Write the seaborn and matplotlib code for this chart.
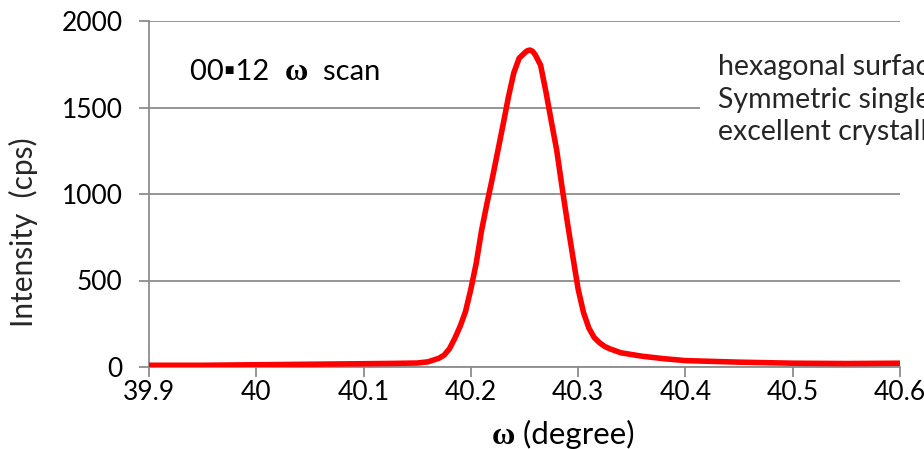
import numpy as np
import pandas as pd
import matplotlib
matplotlib.use('Agg')
import matplotlib.pyplot as plt
import seaborn as sns
from matplotlib.offsetbox import TextArea, HPacker, AnnotationBbox
from matplotlib.patches import Rectangle

# omega scan of the 00.12 reflection
omega = [39.90, 39.95, 40.00, 40.05, 40.10, 40.13, 40.15, 40.16, 40.17, 40.175,
         40.18, 40.185, 40.19, 40.195, 40.20, 40.205, 40.21, 40.215, 40.22, 40.225,
         40.23, 40.235, 40.24, 40.245, 40.25, 40.2525, 40.255, 40.2575, 40.26, 40.265,
         40.27, 40.275, 40.28, 40.285, 40.29, 40.295, 40.30, 40.305, 40.31, 40.315,
         40.32, 40.325, 40.33, 40.34, 40.36, 40.38, 40.40, 40.45, 40.50, 40.55,
         40.60]
intensity = [10, 10, 13, 16, 19, 21, 23, 30, 50, 68,
             105, 165, 235, 320, 450, 600, 790, 945, 1090, 1245,
             1400, 1560, 1700, 1785, 1815, 1828, 1832, 1825, 1805, 1745,
             1590, 1420, 1254, 1040, 835, 640, 450, 315, 225, 170,
             140, 118, 104, 82, 62, 48, 37, 28, 22, 20,
             22]

x_ticks = [39.9, 40.0, 40.1, 40.2, 40.3, 40.4, 40.5, 40.6]
x_ticklabels = ['39.9', '40', '40.1', '40.2', '40.3', '40.4', '40.5', '40.6']
y_ticks = [0, 500, 1000, 1500, 2000]

note_lines = ['hexagonal surface', 'Symmetric single peak', 'excellent crystallinity']

df = pd.DataFrame({'omega': omega, 'intensity': intensity})

sns.set_style('white')
plt.rcParams['font.family'] = ['Lato', 'DejaVu Sans']
plt.rcParams['font.size'] = 19

axis_gray = '#8c8c8c'

fig = plt.figure(figsize=(9.24, 4.49), dpi=100)
ax = fig.add_axes([149 / 924, 1 - 367 / 449, 751 / 924, 346 / 449])

sns.lineplot(data=df, x='omega', y='intensity', color='#ff0000', lw=4, ax=ax, zorder=4)

ax.set_xlim(39.9, 40.6)
ax.set_ylim(0, 2000)
ax.set_xticks(x_ticks)
ax.set_xticklabels(x_ticklabels)
ax.set_yticks(y_ticks)
ax.set_xlabel('')
ax.set_ylabel('')

ax.grid(axis='y', color=axis_gray, lw=1.3)
ax.grid(axis='x', visible=False)
for s in ['top', 'right']:
    ax.spines[s].set_visible(False)
for s in ['left', 'bottom']:
    ax.spines[s].set_color(axis_gray)
    ax.spines[s].set_linewidth(1.3)
ax.tick_params(axis='both', direction='out', length=7, width=1.3, color=axis_gray,
               labelsize=19, labelcolor='black')
ax.tick_params(axis='y', pad=12)
ax.tick_params(axis='x', pad=2)
ax.tick_params(left=True, bottom=True)

# y label sits a bit below the middle of the axis, as in the original
fig.text(23 / 924, 1 - 232 / 449, 'Intensity  (cps)', rotation=90, ha='center', va='center',
         fontsize=21.5)


def rich_text(parts, xy, align):
    boxes = [TextArea(s, textprops=p) for s, p in parts]
    pack = HPacker(children=boxes, align='baseline', pad=0, sep=0)
    ab = AnnotationBbox(pack, xy, xycoords='figure pixels', box_alignment=align,
                        frameon=False, annotation_clip=False)
    fig.add_artist(ab)


plain = dict(fontsize=21, family=['Lato', 'DejaVu Sans'], color='black')
label = dict(fontsize=22.5, family=['Lato', 'DejaVu Sans'], color='black')
greek = dict(fontsize=23, family='Liberation Serif', weight='bold', color='black')

rich_text([('00\u25aa12  ', plain), ('\u03c9', greek), ('  scan', plain)], (190, 449 - 72), (0, 0.5))
rich_text([('\u03c9', greek), (' (degree)', label)], (492, 14), (0, 0.5))

# white box behind the note on the right (runs past the figure edge)
ax.add_patch(Rectangle((7.0, (449 - 160) / 100), 2.3, 1.32, transform=fig.dpi_scale_trans,
                       facecolor='white', edgecolor='none', zorder=3, clip_on=False))
fig.text(718 / 924, 1 - 140 / 449, '\n'.join(note_lines), ha='left', va='baseline',
         fontsize=20.5, linespacing=1.3, zorder=5)

fig.savefig('out.png', dpi=100)
